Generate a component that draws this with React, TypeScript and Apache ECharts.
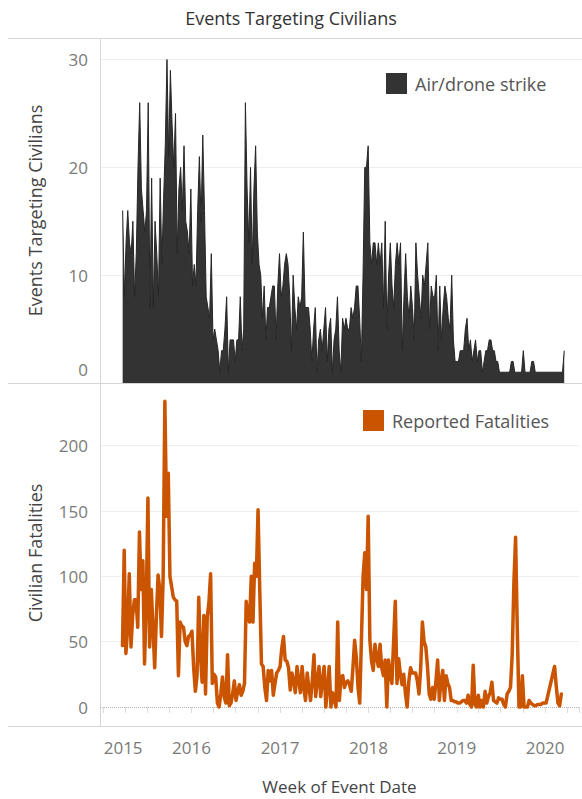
import React, { useEffect, useRef } from 'react';
import * as echarts from 'echarts';

const FONT = '"Open Sans", Lato, sans-serif';
const TITLE = 'Events Targeting Civilians';
const TOP_AXIS_TITLE = 'Events Targeting Civilians';
const BOTTOM_AXIS_TITLE = 'Civilian Fatalities';
const X_AXIS_TITLE = 'Week of Event Date';
const SERIES_EVENTS = 'Air/drone strike';
const SERIES_FATAL = 'Reported Fatalities';

// first week shown (weekly data, one value per week)
const FIRST_WEEK = [2015, 2, 22];

// Weekly count of events targeting civilians (air/drone strikes)
const events = [
  16, 8, 13, 16, 13, 12, 15, 8, 12, 20,
  26, 18, 16, 14, 16, 26, 7, 19, 7, 15,
  12, 8, 19, 11, 17, 22, 30, 21, 29, 24,
  20, 25, 12, 18, 20, 16, 22, 15, 14, 12,
  18, 9, 11, 9, 16, 21, 15, 23, 16, 8,
  7, 6, 12, 4, 5, 4, 3, 1, 3, 3,
  5, 8, 1, 4, 4, 4, 2, 4, 4, 8,
  3, 5, 26, 18, 13, 20, 11, 18, 22, 14,
  11, 10, 6, 9, 4, 7, 7, 8, 9, 9,
  4, 9, 12, 8, 9, 11, 12, 11, 8, 3,
  10, 7, 5, 8, 7, 8, 14, 7, 7, 7,
  5, 2, 5, 7, 1, 4, 5, 3, 5, 7,
  2, 5, 6, 1, 4, 5, 8, 3, 1, 6,
  5, 6, 5, 5, 7, 6, 7, 9, 9, 6,
  2, 10, 20, 20, 22, 13, 11, 13, 13, 11,
  13, 11, 13, 7, 15, 5, 10, 13, 9, 7,
  11, 13, 11, 13, 3, 8, 12, 8, 6, 9,
  7, 4, 13, 10, 8, 6, 10, 9, 11, 13,
  5, 9, 8, 8, 10, 3, 9, 4, 7, 9,
  8, 6, 5, 10, 4, 2, 2, 2, 3, 3,
  3, 5, 6, 3, 4, 2, 3, 4, 2, 3,
  3, 1, 2, 3, 3, 4, 4, 3, 3, 2,
  2, 1, 1, 1, 1, 1, 1, 1, 2, 2,
  1, 1, 1, 1, 1, 3, 1, 1, 1, 1,
  2, 2, 1, 1, 1, 1, 1, 1, 1, 1,
  1, 1, 1, 1, 1, 1, 1, 1, 1, 3,
];

// Weekly reported civilian fatalities (null = no record that week)
const fatalities = [
  47, 120, 41, 60, 102, 46, 70, 82, 82, 61,
  134, 90, 112, 33, 80, 160, 46, 90, 60, 30,
  70, 101, 90, 54, 100, 234, 146, 179, 100, 92,
  84, 82, 81, 24, 65, 62, 61, 50, 47, 54,
  55, 58, 30, 12, 24, 84, 40, 19, 70, 10,
  69, 80, 102, 18, 25, 23, 3, 0, 10, 23,
  8, 3, 40, 1, 3, 10, 20, 5, 12, 17,
  9, 12, 18, 81, 70, 65, 100, 65, 110, 100,
  151, 90, 33, 31, 15, 5, 28, 20, 28, 9,
  18, 26, 28, 31, 45, 54, 36, 35, 30, 13,
  26, 20, 11, 31, 20, 11, 31, 15, 5, 26,
  15, 5, 20, 40, 8, 20, 31, 8, 20, 31,
  0, 15, 31, 0, 11, 5, 0, 65, 5, 23,
  24, 15, 19, 20, 17, 12, 30, 51, 38, 15,
  3, 51, 100, 118, 90, 146, 51, 35, 28, 48,
  38, 31, 48, 30, 24, 36, 0, 36, 25, 18,
  50, 81, 18, 37, 25, 17, 25, 10, 0, 20,
  30, 26, 26, 26, 20, 10, 30, 65, 50, 46,
  31, 10, 6, 15, 6, 20, 36, 5, 20, 28,
  5, 24, 18, 15, 5, 5, 4, 4, 3, 3,
  4, 5, 5, 3, 9, 2, 0, 32, 2, 0,
  9, 0, 5, 0, 12, 3, 8, 11, 19, 5,
  4, 3, 7, 6, 6, 2, 0, 10, 12, 15,
  40, 95, 130, 60, 0, 0, 24, 0, 0, 0,
  5, 3, 2, 1, 1, 2, 2, 2, 3, 3,
  3, null, null, null, null, 31, 16, 3, 1, 10,
];

const TOP_TICKS = [0, 10, 20, 30];
const BOTTOM_TICKS = [0, 50, 100, 150, 200];

const DAY = 86400000;
const firstWeek = Date.UTC(FIRST_WEEK[0], FIRST_WEEK[1], FIRST_WEEK[2]);
const weekTimes = events.map((_, i) => firstWeek + i * 7 * DAY);
const AXIS_MIN = Date.UTC(2014, 11, 19);
const AXIS_MAX = Date.UTC(2020, 4, 20);

const LABEL_COLOR = '#7a7a7a';
const TITLE_COLOR = '#444';
const RULE = '#d6d6d6';
const GRID = '#efefef';
const ORANGE = '#ca5400';
const TICK_FS = 17;
const TEXT_FS = 18;

export default function App() {
  const ref = useRef<HTMLDivElement>(null);

  useEffect(() => {
    if (!ref.current) return;
    const chart = echarts.init(ref.current, undefined, { renderer: 'svg' });
    const yLabel = (ticks: number[]) => ({
      margin: 12,
      color: LABEL_COLOR,
      fontSize: TICK_FS,
      fontFamily: FONT,
      showMaxLabel: false,
      formatter: (v: number) => (ticks.indexOf(v) < 0 ? '' : String(v)),
    });
    const legendText = { fontFamily: FONT, fontSize: TEXT_FS, color: '#555', padding: [0, 0, 0, 3] };
    const option: any = {
      animation: false,
      useUTC: true,
      title: {
        text: TITLE,
        left: 'center',
        top: 4,
        textStyle: { fontFamily: FONT, fontSize: TEXT_FS, fontWeight: 'normal', color: '#333' },
      },
      grid: [
        { left: 100, right: 0, top: 38, height: 345 },
        { left: 100, right: 0, top: 383, height: 324 },
      ],
      xAxis: [
        { type: 'time', gridIndex: 0, min: AXIS_MIN, max: AXIS_MAX, show: false },
        {
          type: 'time',
          gridIndex: 1,
          min: AXIS_MIN,
          max: AXIS_MAX,
          offset: 19,
          minInterval: 85 * DAY,
          maxInterval: 95 * DAY,
          axisLine: { show: false },
          axisTick: { show: true, length: 6, lineStyle: { color: '#dcdcdc' } },
          splitLine: { show: false },
          axisLabel: {
            margin: 13,
            color: LABEL_COLOR,
            fontSize: TICK_FS,
            fontFamily: FONT,
            showMinLabel: true,
            showMaxLabel: true,
            formatter: (v: number) => {
              const d = new Date(v);
              if (d.getUTCMonth() !== 0 || d.getUTCDate() !== 1) return '';
              const y = d.getUTCFullYear();
              return y === 2015 ? '{l|2015}' : String(y);
            },
            rich: {
              l: { padding: [0, 0, 0, 40], color: LABEL_COLOR, fontSize: TICK_FS, fontFamily: FONT },
            },
          },
          name: X_AXIS_TITLE,
          nameLocation: 'middle',
          nameGap: 52,
          nameTextStyle: { fontFamily: FONT, fontSize: 17, color: TITLE_COLOR },
        },
      ],
      yAxis: [
        {
          type: 'value',
          gridIndex: 0,
          min: 0,
          max: 32,
          interval: 10,
          axisLine: { show: false },
          axisTick: { show: false },
          splitLine: { show: true, showMinLine: false, showMaxLine: false, lineStyle: { color: GRID } },
          axisLabel: {
            ...yLabel(TOP_TICKS),
            formatter: (v: number) =>
              TOP_TICKS.indexOf(v) < 0 ? '' : v === 0 ? '{z|0}' : String(v),
            rich: {
              z: { padding: [0, 0, 28, 0], color: LABEL_COLOR, fontSize: TICK_FS, fontFamily: FONT },
            },
          },
          name: TOP_AXIS_TITLE,
          nameLocation: 'middle',
          nameGap: 56,
          nameTextStyle: { fontFamily: FONT, fontSize: TEXT_FS, color: TITLE_COLOR },
        },
        {
          type: 'value',
          gridIndex: 1,
          min: 0,
          max: 248,
          interval: 50,
          axisLine: { show: false },
          axisTick: { show: false },
          splitLine: { show: true, showMinLine: false, showMaxLine: false, lineStyle: { color: GRID } },
          axisLabel: yLabel(BOTTOM_TICKS),
          name: BOTTOM_AXIS_TITLE,
          nameLocation: 'middle',
          nameGap: 56,
          nameTextStyle: { fontFamily: FONT, fontSize: TEXT_FS, color: TITLE_COLOR, padding: [0, 16, 0, 0] },
        },
      ],
      legend: [
        {
          data: [SERIES_EVENTS],
          left: 386,
          top: 73,
          padding: 0,
          icon: 'rect',
          itemWidth: 21,
          itemHeight: 21,
          selectedMode: false,
          textStyle: legendText,
        },
        {
          data: [SERIES_FATAL],
          left: 363,
          top: 410,
          padding: 0,
          icon: 'rect',
          itemWidth: 21,
          itemHeight: 21,
          selectedMode: false,
          textStyle: legendText,
        },
      ],
      series: [
        {
          name: SERIES_EVENTS,
          type: 'line',
          xAxisIndex: 0,
          yAxisIndex: 0,
          data: weekTimes.map((t, i) => [t, events[i]]),
          symbol: 'none',
          showSymbol: false,
          lineStyle: { color: '#262626', width: 1 },
          itemStyle: { color: '#333333' },
          areaStyle: { color: '#333333', opacity: 1 },
        },
        {
          name: SERIES_FATAL,
          type: 'line',
          xAxisIndex: 1,
          yAxisIndex: 1,
          data: weekTimes.map((t, i) => [t, fatalities[i] === null ? '-' : fatalities[i]]),
          connectNulls: true,
          symbol: 'none',
          showSymbol: false,
          clip: false,
          lineStyle: { color: ORANGE, width: 3.5, join: 'round', cap: 'round' },
          itemStyle: { color: ORANGE },
          markLine: {
            silent: true,
            symbol: 'none',
            label: { show: false },
            lineStyle: { color: '#b5b5b5', type: 'dotted', width: 1 },
            data: [{ yAxis: 0 }],
            z: 1,
          },
        },
      ],
      graphic: [
        { type: 'line', silent: true, z: 1, shape: { x1: 8, y1: 38.5, x2: 582, y2: 38.5 }, style: { stroke: RULE, lineWidth: 1 } },
        { type: 'line', silent: true, z: 1, shape: { x1: 8, y1: 383.5, x2: 582, y2: 383.5 }, style: { stroke: RULE, lineWidth: 1 } },
        { type: 'line', silent: true, z: 1, shape: { x1: 8, y1: 726.5, x2: 582, y2: 726.5 }, style: { stroke: RULE, lineWidth: 1 } },
        { type: 'line', silent: true, z: 1, shape: { x1: 100.5, y1: 38, x2: 100.5, y2: 727 }, style: { stroke: RULE, lineWidth: 1 } },
      ],
    };
    chart.setOption(option);
    return () => chart.dispose();
  }, []);

  return (
    <div
      ref={ref}
      style={{ position: 'absolute', left: 0, top: 0, width: 582, height: 799, background: '#fff' }}
    />
  );
}
